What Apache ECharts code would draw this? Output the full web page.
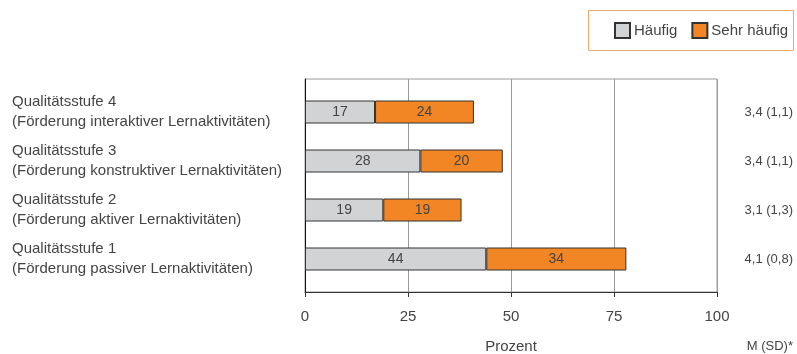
<!DOCTYPE html>
<html>
<head>
<meta charset="utf-8">
<script src="https://cdn.jsdelivr.net/npm/echarts@6/dist/echarts.min.js"></script>
<style>
  html, body { margin: 0; padding: 0; background: #fff; }
  #chart { width: 797px; height: 354px; }
</style>
</head>
<body>
<div id="chart"></div>
<script>
// Kategorien von unten nach oben
const categories = [
  'Qualitätsstufe 1\n(Förderung passiver Lernaktivitäten)',
  'Qualitätsstufe 2\n(Förderung aktiver Lernaktivitäten)',
  'Qualitätsstufe 3\n(Förderung konstruktiver Lernaktivitäten)',
  'Qualitätsstufe 4\n(Förderung interaktiver Lernaktivitäten)'
];
const haeufig = [44, 19, 28, 17];
const sehrHaeufig = [34, 19, 20, 24];
const mittelwerte = ['4,1 (0,8)', '3,1 (1,3)', '3,4 (1,1)', '3,4 (1,1)'];
const xTicks = [0, 25, 50, 75, 100];

const textColor = '#444';
const fontFamily = '"Liberation Sans", Arial, sans-serif';

const chart = echarts.init(document.getElementById('chart'), null, { renderer: 'canvas' });

chart.setOption({
  animation: false,
  textStyle: { fontFamily: fontFamily, color: textColor },
  legend: {
    orient: 'horizontal',
    left: 614,
    top: 22,
    width: 180,
    padding: 0,
    icon: 'rect',
    itemWidth: 15,
    itemHeight: 15,
    itemGap: 14,
    textStyle: { fontSize: 15, color: textColor, fontFamily: fontFamily, padding: [0, 0, 0, -1] },
    data: ['Häufig', 'Sehr häufig']
  },
  graphic: [
    {
      type: 'rect',
      shape: { x: 588.5, y: 10.5, width: 205, height: 40 },
      style: { fill: 'none', stroke: '#f6a76a', lineWidth: 1 },
      silent: true
    },
    {
      type: 'text',
      right: 4,
      top: 340,
      style: { text: 'M (SD)*', fontSize: 13, fill: textColor, fontFamily: fontFamily }
    }
  ],
  grid: [
    // Balkenbereich
    { left: 305, right: 80, top: 87.5, height: 196, outerBoundsMode: 'none', containLabel: false },
    // Rahmen, Gitterlinien und x-Achse
    { left: 305, right: 80, top: 79, height: 213, outerBoundsMode: 'none', containLabel: false,
      show: true, borderColor: '#9a9a9a', borderWidth: 1, backgroundColor: 'transparent' }
  ],
  xAxis: [
    { gridIndex: 0, type: 'value', min: 0, max: 100, show: false },
    {
      gridIndex: 1, type: 'value', min: 0, max: 100, interval: 25,
      axisLine: { show: true, lineStyle: { color: '#333', width: 1 } },
      axisTick: { show: true, length: 5, lineStyle: { color: '#333' } },
      axisLabel: {
        fontSize: 15, color: textColor, margin: 17,
        formatter: v => (xTicks.indexOf(v) >= 0 ? String(v) : '')
      },
      splitLine: { show: true, lineStyle: { color: '#9a9a9a', width: 1 } },
      name: 'Prozent',
      nameLocation: 'middle',
      nameGap: 47,
      nameTextStyle: { fontSize: 15, color: textColor }
    }
  ],
  yAxis: [
    {
      gridIndex: 0, type: 'category', data: categories,
      axisLine: { show: false }, axisTick: { show: false },
      axisLabel: {
        align: 'left', margin: 293, fontSize: 15, lineHeight: 20, color: textColor,
        padding: [6, 0, 0, 0]
      }
    },
    {
      gridIndex: 0, type: 'category', data: categories, position: 'right',
      axisLine: { show: false }, axisTick: { show: false },
      axisLabel: {
        align: 'right', margin: 76, fontSize: 13, color: textColor,
        formatter: (v, i) => mittelwerte[i]
      }
    },
    {
      gridIndex: 1, type: 'value', min: 0, max: 1,
      axisLine: { show: true, lineStyle: { color: '#111', width: 1 } },
      axisTick: { show: false }, axisLabel: { show: false }, splitLine: { show: false }
    }
  ],
  series: [
    {
      name: 'Häufig', type: 'bar', stack: 'total',
      xAxisIndex: 0, yAxisIndex: 0,
      barWidth: 23,
      data: haeufig,
      itemStyle: { color: '#d2d3d5', borderColor: '#333', borderWidth: 1 },
      label: { show: true, position: 'inside', fontSize: 14, color: textColor }
    },
    {
      name: 'Sehr häufig', type: 'bar', stack: 'total',
      xAxisIndex: 0, yAxisIndex: 0,
      barWidth: 23,
      data: sehrHaeufig,
      itemStyle: { color: '#f28524', borderColor: '#333', borderWidth: 1 },
      label: { show: true, position: 'inside', fontSize: 14, color: textColor }
    }
  ]
});
</script>
</body>
</html>
